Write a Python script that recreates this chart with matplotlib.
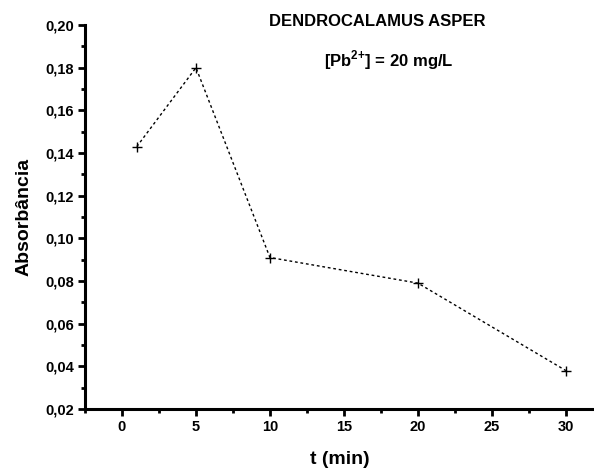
import matplotlib.pyplot as plt
from matplotlib.ticker import MultipleLocator, FuncFormatter

# dados
tempo = [1, 5, 10, 20, 30]
absorbancia = [0.143, 0.180, 0.091, 0.079, 0.038]

plt.rcParams['font.family'] = ['Liberation Sans', 'DejaVu Sans']
plt.rcParams['font.weight'] = 'bold'
plt.rcParams['mathtext.fontset'] = 'custom'
plt.rcParams['mathtext.rm'] = 'Liberation Sans:bold'
plt.rcParams['mathtext.bf'] = 'Liberation Sans:bold'

fig = plt.figure(figsize=(5.94, 4.70), dpi=100)
ax = fig.add_axes([85/594, 1-409/470, 1-85/594, (409-25)/470])

ax.plot(tempo, absorbancia, ls=(0, (2, 2)), lw=1, color='black',
        marker='+', ms=7, mew=1)

ax.set_xlim(-2.5, 31.9)
ax.set_ylim(0.02, 0.20)
ax.xaxis.set_major_locator(MultipleLocator(5))
ax.xaxis.set_minor_locator(MultipleLocator(2.5))
ax.yaxis.set_major_locator(MultipleLocator(0.02))
ax.yaxis.set_minor_locator(MultipleLocator(0.01))
ax.yaxis.set_major_formatter(FuncFormatter(lambda v, p: f"{v:.2f}".replace('.', ',')))

for s in ['top', 'right']:
    ax.spines[s].set_visible(False)
for s in ['left', 'bottom']:
    ax.spines[s].set_linewidth(2.2)

ax.tick_params(which='major', direction='out', length=5, width=2, labelsize=10.5, pad=3)
ax.tick_params(which='minor', direction='out', length=3, width=2)
for lab in ax.get_xticklabels() + ax.get_yticklabels():
    lab.set_fontweight('bold')

ax.set_xlabel('t (min)', fontsize=14, fontweight='bold', labelpad=12)
ax.set_ylabel('Absorbância', fontsize=14, fontweight='bold', labelpad=9)

fig.text(377/594, 1-21/470, 'DENDROCALAMUS ASPER', ha='center', va='center',
         fontsize=12, fontweight='bold')
fig.text(389/594, 1-60/470, r'[Pb$^{\mathrm{2{+}}}$] = 20 mg/L', ha='center', va='center',
         fontsize=12, fontweight='bold')

fig.savefig('out.png', dpi=100)
